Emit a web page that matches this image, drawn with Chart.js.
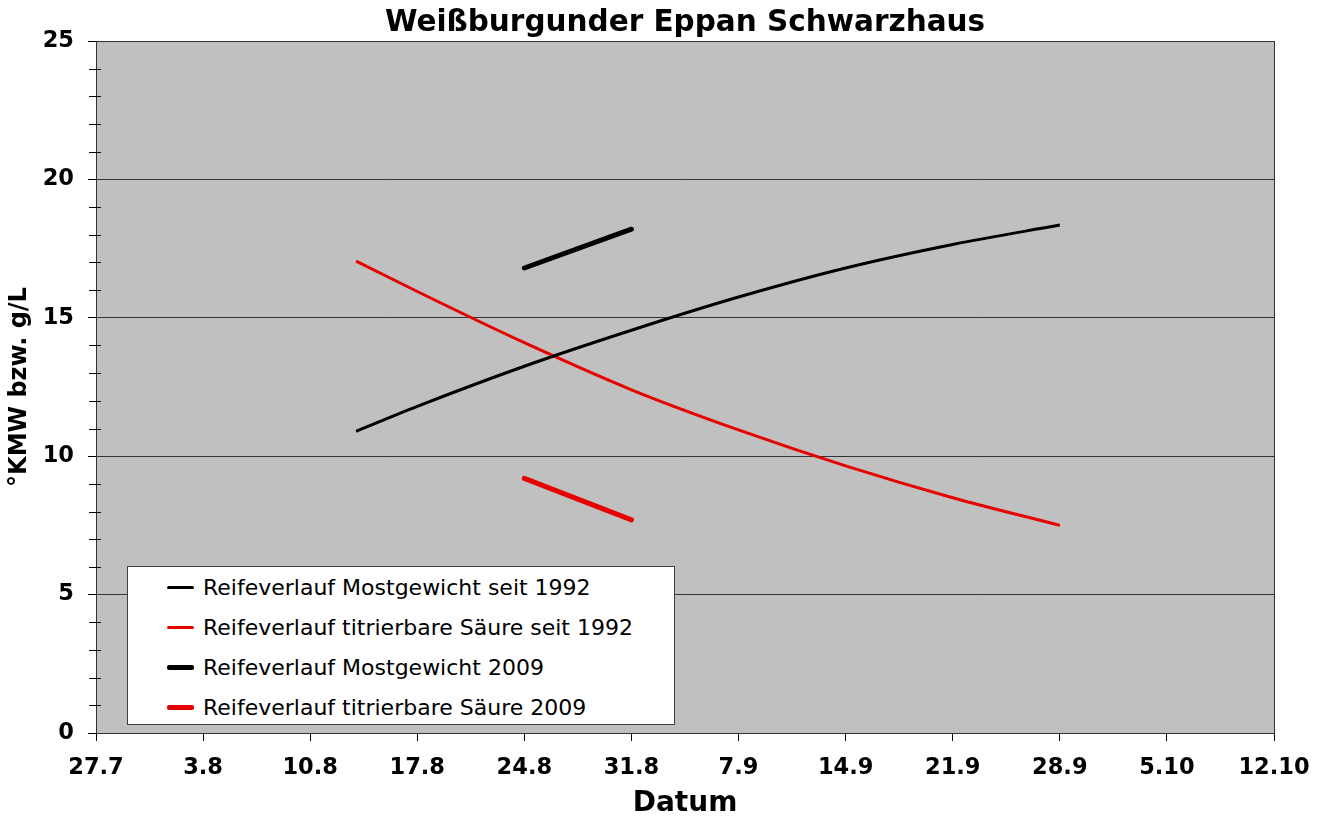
<!DOCTYPE html>
<html><head><meta charset="utf-8">
<script src="https://cdn.jsdelivr.net/npm/chart.js@4/dist/chart.umd.min.js"></script>
<style>
html,body{margin:0;padding:0;background:#fff;}
#wrap{position:relative;width:1326px;height:816px;}
#legend{position:absolute;left:127px;top:566px;width:546px;height:157px;border:1px solid #404040;background:#fff;font-family:"DejaVu Sans",Verdana,sans-serif;font-size:22px;color:#000;}
.item{position:absolute;left:39px;height:26px;display:flex;align-items:center;white-space:nowrap;}
.swatch{width:27px;margin-right:9px;}
</style></head>
<body><div id="wrap"><canvas id="c" width="1326" height="816"></canvas><div id="legend"></div></div>
<script>
const chartTitle = 'Weißburgunder Eppan Schwarzhaus';
const yTitle = '°KMW bzw. g/L';
const xTitle = 'Datum';
const tickLabels = ['27.7','3.8','10.8','17.8','24.8','31.8','7.9','14.9','21.9','28.9','5.10','12.10'];
const seriesNames = ['Reifeverlauf Mostgewicht seit 1992','Reifeverlauf titrierbare Säure seit 1992','Reifeverlauf Mostgewicht 2009','Reifeverlauf titrierbare Säure 2009'];
// x = days after 27.7
const days1992 = [17, 21, 28, 35, 42, 49, 56, 63];
const most1992 = [10.9, 11.8, 13.25, 14.55, 15.75, 16.8, 17.65, 18.35];
const saeure1992 = [17.05, 15.95, 14.1, 12.4, 10.95, 9.65, 8.5, 7.5];
const days2009 = [28, 35];
const most2009 = [16.8, 18.2];
const saeure2009 = [9.2, 7.7];

const RED = '#e60000';
const FONT = '"DejaVu Sans", Verdana, sans-serif';
const pts = (xs, ys) => xs.map((x, i) => ({x: x, y: ys[i]}));

const plotDeco = {
  id: 'plotDeco',
  beforeDraw(chart) {
    const {ctx, chartArea: a} = chart;
    ctx.save();
    ctx.fillStyle = '#c0c0c0';
    ctx.fillRect(a.left, a.top, a.right - a.left, a.bottom - a.top);
    ctx.restore();
  },
  afterDatasetsDraw(chart) {
    const {ctx, chartArea: a, scales} = chart;
    ctx.save();
    ctx.strokeStyle = '#333';
    ctx.lineWidth = 1;
    ctx.strokeRect(Math.round(a.left) + 0.5, Math.round(a.top) + 0.5, Math.round(a.right - a.left), Math.round(a.bottom - a.top));
    ctx.strokeStyle = '#000';
    for (let v = 0; v <= 25; v++) {
      if (v % 5 === 0) continue;
      const y = Math.round(scales.y.getPixelForValue(v)) + 0.5;
      ctx.beginPath();
      ctx.moveTo(a.left - 7, y);
      ctx.lineTo(a.left + 5, y);
      ctx.stroke();
    }
    ctx.restore();
  }
};

const colors = ['#000', RED, '#000', RED];
const widths = [3, 3, 5, 5];

const chart = new Chart(document.getElementById('c'), {
  type: 'line',
  data: {
    datasets: [
      {label: seriesNames[0], data: pts(days1992, most1992), borderColor: colors[0], borderWidth: widths[0], cubicInterpolationMode: 'monotone'},
      {label: seriesNames[1], data: pts(days1992, saeure1992), borderColor: colors[1], borderWidth: widths[1], cubicInterpolationMode: 'monotone'},
      {label: seriesNames[2], data: pts(days2009, most2009), borderColor: colors[2], borderWidth: widths[2], borderCapStyle: 'round'},
      {label: seriesNames[3], data: pts(days2009, saeure2009), borderColor: colors[3], borderWidth: widths[3], borderCapStyle: 'round'}
    ]
  },
  options: {
    responsive: false,
    animation: false,
    devicePixelRatio: 1,
    elements: {point: {radius: 0, hoverRadius: 0}, line: {fill: false}},
    layout: {padding: {left: 0, right: 52, top: 0, bottom: 0}},
    plugins: {
      legend: {display: false},
      tooltip: {enabled: false},
      title: {
        display: true, text: chartTitle, fullSize: false, color: '#000',
        font: {family: FONT, size: 29.5, weight: 'bold', lineHeight: 1.2},
        padding: {top: 5.6, bottom: 0}
      }
    },
    scales: {
      x: {
        type: 'linear', min: 0, max: 77,
        afterBuildTicks: s => { s.ticks = tickLabels.map((_, i) => ({value: i * 7})); },
        afterFit: s => { s.height = 83; },
        ticks: {
          autoSkip: false, maxRotation: 0, color: '#000', padding: 14,
          font: {family: FONT, size: 22.5, weight: 'bold'},
          callback: (v, i) => tickLabels[i]
        },
        grid: {drawOnChartArea: false, drawTicks: true, tickLength: 8, color: '#000', tickColor: '#000'},
        border: {display: true, color: '#000', width: 1},
        title: {display: true, text: xTitle, color: '#000', font: {family: FONT, size: 28, weight: 'bold', lineHeight: 1}, padding: {top: 0, bottom: -2}}
      },
      y: {
        min: 0, max: 25,
        afterFit: s => { s.width = 96; },
        ticks: {stepSize: 5, color: '#000', padding: 14, font: {family: FONT, size: 22.5, weight: 'bold'}},
        grid: {color: '#333', lineWidth: 1, tickLength: 8, tickColor: '#000'},
        border: {display: true, color: '#000', width: 1},
        title: {display: true, text: yTitle, color: '#000', font: {family: FONT, size: 24, weight: 'bold', lineHeight: 1}, padding: {top: 8, bottom: 0}}
      }
    }
  },
  plugins: [plotDeco]
});

// HTML legend built from the chart's datasets
const leg = document.getElementById('legend');
const rowCenters = [20, 60, 100, 140];
chart.data.datasets.forEach((ds, i) => {
  const it = document.createElement('div');
  it.className = 'item';
  it.style.top = (rowCenters[i] - 13) + 'px';
  const sw = document.createElement('span');
  sw.className = 'swatch';
  sw.style.borderTop = ds.borderWidth + 'px solid ' + ds.borderColor;
  sw.style.borderRadius = '2px';
  const tx = document.createElement('span');
  tx.textContent = ds.label;
  it.appendChild(sw); it.appendChild(tx);
  leg.appendChild(it);
});
</script>
</body></html>
